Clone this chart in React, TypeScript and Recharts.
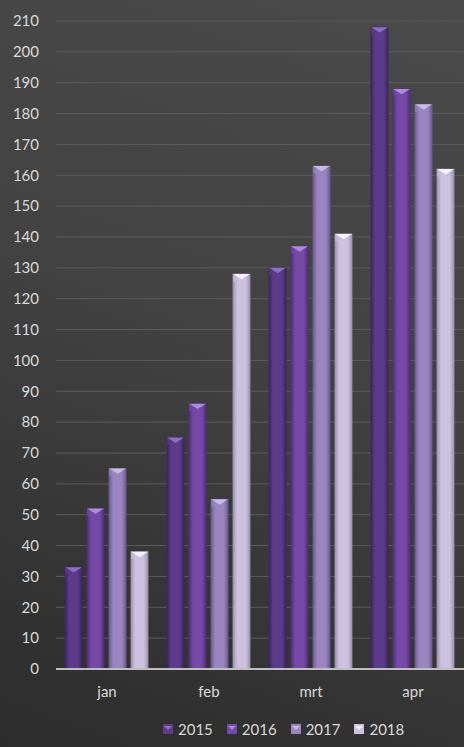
import React from "react";
import { BarChart, Bar, XAxis, YAxis, CartesianGrid, Legend } from "recharts";

const categories = ["jan", "feb", "mrt", "apr"];
const s2015 = [33, 75, 130, 208];
const s2016 = [52, 86, 137, 188];
const s2017 = [65, 55, 163, 183];
const s2018 = [38, 128, 141, 162];
const yTicks = [0, 10, 20, 30, 40, 50, 60, 70, 80, 90, 100, 110, 120, 130, 140, 150, 160, 170, 180, 190, 200, 210];

const seriesNames = ["2015", "2016", "2017", "2018"];
const seriesValues = [s2015, s2016, s2017, s2018];
const seriesColors = [
  { base: "#5c3b8a", dark: "#3f2562", light: "#8c70c2" },
  { base: "#7649a7", dark: "#532f7c", light: "#aa8ddb" },
  { base: "#9a85c0", dark: "#6f5c93", light: "#c9bbe8" },
  { base: "#ccc1de", dark: "#9f94b2", light: "#f6f3fc" },
];

const data = categories.map((c, i) => {
  const row: Record<string, number | string> = { name: c };
  seriesNames.forEach((s, j) => {
    row["y" + s] = seriesValues[j][i];
  });
  return row;
});

const FONT = "Lato, 'Open Sans', sans-serif";

function makeShape(idx: number) {
  return (props: any) => {
    const { x, y, width, height } = props;
    if (!height || height <= 0) return <g />;
    const col = seriesColors[idx];
    const th = Math.min(width * 0.32, height);
    return (
      <g>
        <rect x={x} y={y} width={width} height={height} fill={`url(#barGrad${idx})`} />
        <rect x={x} y={y} width={width} height={height} fill="none" stroke={col.dark} strokeWidth={0.8} />
        <polygon
          points={`${x},${y} ${x + width},${y} ${x + width / 2},${y + th}`}
          fill={col.light}
        />
        <polygon
          points={`${x},${y} ${x + width / 2},${y + th} ${x},${y + th * 1.4}`}
          fill={col.base}
          opacity={0.6}
        />
      </g>
    );
  };
}

const LegendContent = () => (
  <div style={{ display: "flex", fontFamily: FONT, fontSize: 15, color: "#d9d9d9", height: 20, alignItems: "center" }}>
    {seriesNames.map((s, i) => (
      <div key={s} style={{ display: "flex", alignItems: "center", marginRight: 14 }}>
        <svg width={10} height={10} style={{ marginRight: 5 }}>
          <rect x={0} y={0} width={10} height={10} fill={seriesColors[i].base} />
          <polygon points="1,2 9,2 5,6" fill={seriesColors[i].light} />
        </svg>
        <span>{s}</span>
      </div>
    ))}
  </div>
);

export default function App() {
  return (
    <div
      style={{
        position: "absolute",
        left: 0,
        top: 0,
        width: 464,
        height: 747,
        background: "linear-gradient(200deg, #4a4a4a 0%, #424242 45%, #2c2c2c 100%)",
        overflow: "hidden",
      }}
    >
      <BarChart
        width={464}
        height={747}
        data={data}
        margin={{ top: 21, right: 0, bottom: 18, left: 0 }}
        barCategoryGap={9}
        barGap={5}
      >
        <defs>
          {seriesColors.map((c, i) => (
            <linearGradient key={i} id={`barGrad${i}`} x1="0" y1="0" x2="1" y2="0">
              <stop offset="0%" stopColor={c.dark} />
              <stop offset="25%" stopColor={c.base} />
              <stop offset="75%" stopColor={c.base} />
              <stop offset="100%" stopColor={c.dark} />
            </linearGradient>
          ))}
        </defs>
        <CartesianGrid vertical={false} stroke="#5c5c5c" strokeWidth={1} />
        <XAxis
          dataKey="name"
          height={40}
          tickLine={false}
          axisLine={{ stroke: "#bfbfbf", strokeWidth: 2 }}
          tick={{ fill: "#d9d9d9", fontSize: 15, fontFamily: FONT }}
          tickMargin={11}
        />
        <YAxis
          width={56}
          domain={[0, 210]}
          ticks={yTicks}
          interval={0}
          axisLine={false}
          tickLine={false}
          tickSize={0}
          tickMargin={17}
          tick={{ fill: "#d9d9d9", fontSize: 15, fontFamily: FONT }}
        />
        <Legend
          verticalAlign="bottom"
          content={<LegendContent />}
          wrapperStyle={{ left: 163, top: 719, width: "auto", height: 20 }}
        />
        {seriesNames.map((s, i) => (
          <Bar
            key={s}
            dataKey={"y" + s}
            name={s}
            fill={seriesColors[i].base}
            shape={makeShape(i)}
            isAnimationActive={false}
          />
        ))}
      </BarChart>
    </div>
  );
}
